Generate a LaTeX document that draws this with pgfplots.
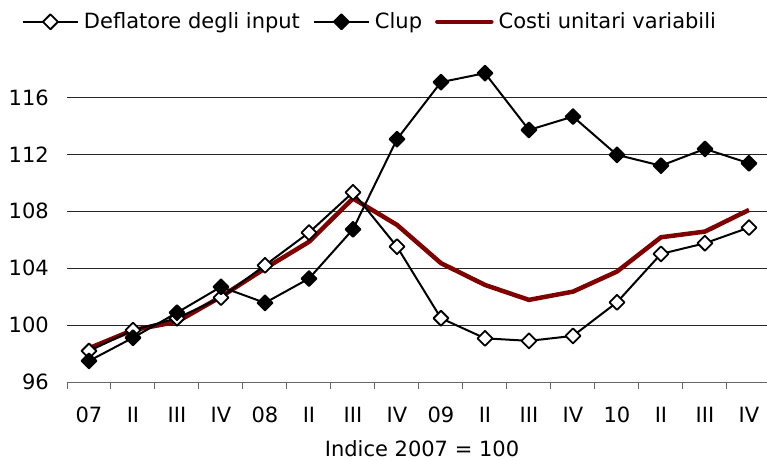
\documentclass[border=0pt]{standalone}
\usepackage{fontspec}
\setmainfont{DejaVu Sans}
\usepackage{pgfplots}
\pgfplotsset{compat=1.18}
\definecolor{costi}{RGB}{128,0,0}
\begin{document}
\fontsize{21bp}{25bp}\selectfont
\begin{tikzpicture}[font=\fontsize{21bp}{25bp}\selectfont]
\begin{axis}[
  scale only axis, width=700bp, height=320.2bp,
  xmin=-0.5, xmax=15.41, ymin=96, ymax=118.5,
  axis lines*=left,
  x axis line style={-, black!60, line width=1bp},
  y axis line style={draw=none},
  xtick={0,...,15},
  xticklabels={07,II,III,IV,08,II,III,IV,09,II,III,IV,10,II,III,IV},
  minor xtick={-0.5,0.5,...,14.5},
  tick align=outside, major tick length=0pt, minor tick length=7bp,
  xtick style={black!60, line width=1bp},
  ytick={96,100,...,116},
  ytick style={draw=none},
  ymajorgrids, grid style={black!85, line width=1bp},
  xticklabel style={anchor=base, inner sep=0pt, yshift=-40bp},
  yticklabel style={anchor=east, inner sep=0pt, xshift=-18bp},
  /pgf/number format/assume math mode=true,
  xlabel={Indice 2007 = 100},
  xlabel style={at={(axis description cs:0.5,0)}, anchor=base, inner sep=0pt, yshift=-74bp, xshift=5bp},
  legend columns=3,
  legend cell align=left,
  legend style={at={(axis description cs:-0.0643,1.125)}, anchor=west, draw=none, fill=none,
    inner sep=0pt, outer sep=0pt, nodes={inner sep=0pt},
    /tikz/every odd column/.append style={column sep=5bp},
    /tikz/every even column/.append style={column sep=13bp}},
  legend image code/.code={\draw[mark repeat=2,mark phase=2] plot coordinates {(0bp,0bp) (27.5bp,0bp) (55bp,0bp)};},
]
\addplot[costi, line width=4.5bp, line join=round, forget plot] coordinates {
(0,98.37) (1,99.65) (2,100.23) (3,101.99) (4,103.98) (5,105.85) (6,108.9) (7,107.04)
(8,104.35) (9,102.82) (10,101.77) (11,102.35) (12,103.76) (13,106.17) (14,106.57) (15,108.09)};
\addplot[black, line width=2bp, line join=round, mark=square*, mark size=5.3bp, mark options={rotate=45, fill=white, solid, line width=1.8bp}] coordinates {
(0,98.18) (1,99.64) (2,100.48) (3,101.93) (4,104.2) (5,106.5) (6,109.33) (7,105.51)
(8,100.48) (9,99.07) (10,98.89) (11,99.24) (12,101.6) (13,105.0) (14,105.75) (15,106.85)};
\addlegendentry{Deflatore degli input}
\addplot[black, line width=2bp, line join=round, mark=square*, mark size=5.3bp, mark options={rotate=45, fill=black, solid, line width=1.8bp}] coordinates {
(0,97.48) (1,99.11) (2,100.87) (3,102.69) (4,101.56) (5,103.27) (6,106.73) (7,113.06)
(8,117.07) (9,117.7) (10,113.71) (11,114.65) (12,111.96) (13,111.2) (14,112.38) (15,111.37)};
\addlegendentry{Clup}
\addlegendimage{costi, line width=4.5bp, line cap=round, legend image code/.code={\draw (1bp,0bp) -- (55bp,0bp);}}
\addlegendentry{Costi unitari variabili}
\end{axis}
\pgfresetboundingbox
\path[use as bounding box] (-67bp,-79bp) rectangle (700bp,382bp);
\end{tikzpicture}
\end{document}
